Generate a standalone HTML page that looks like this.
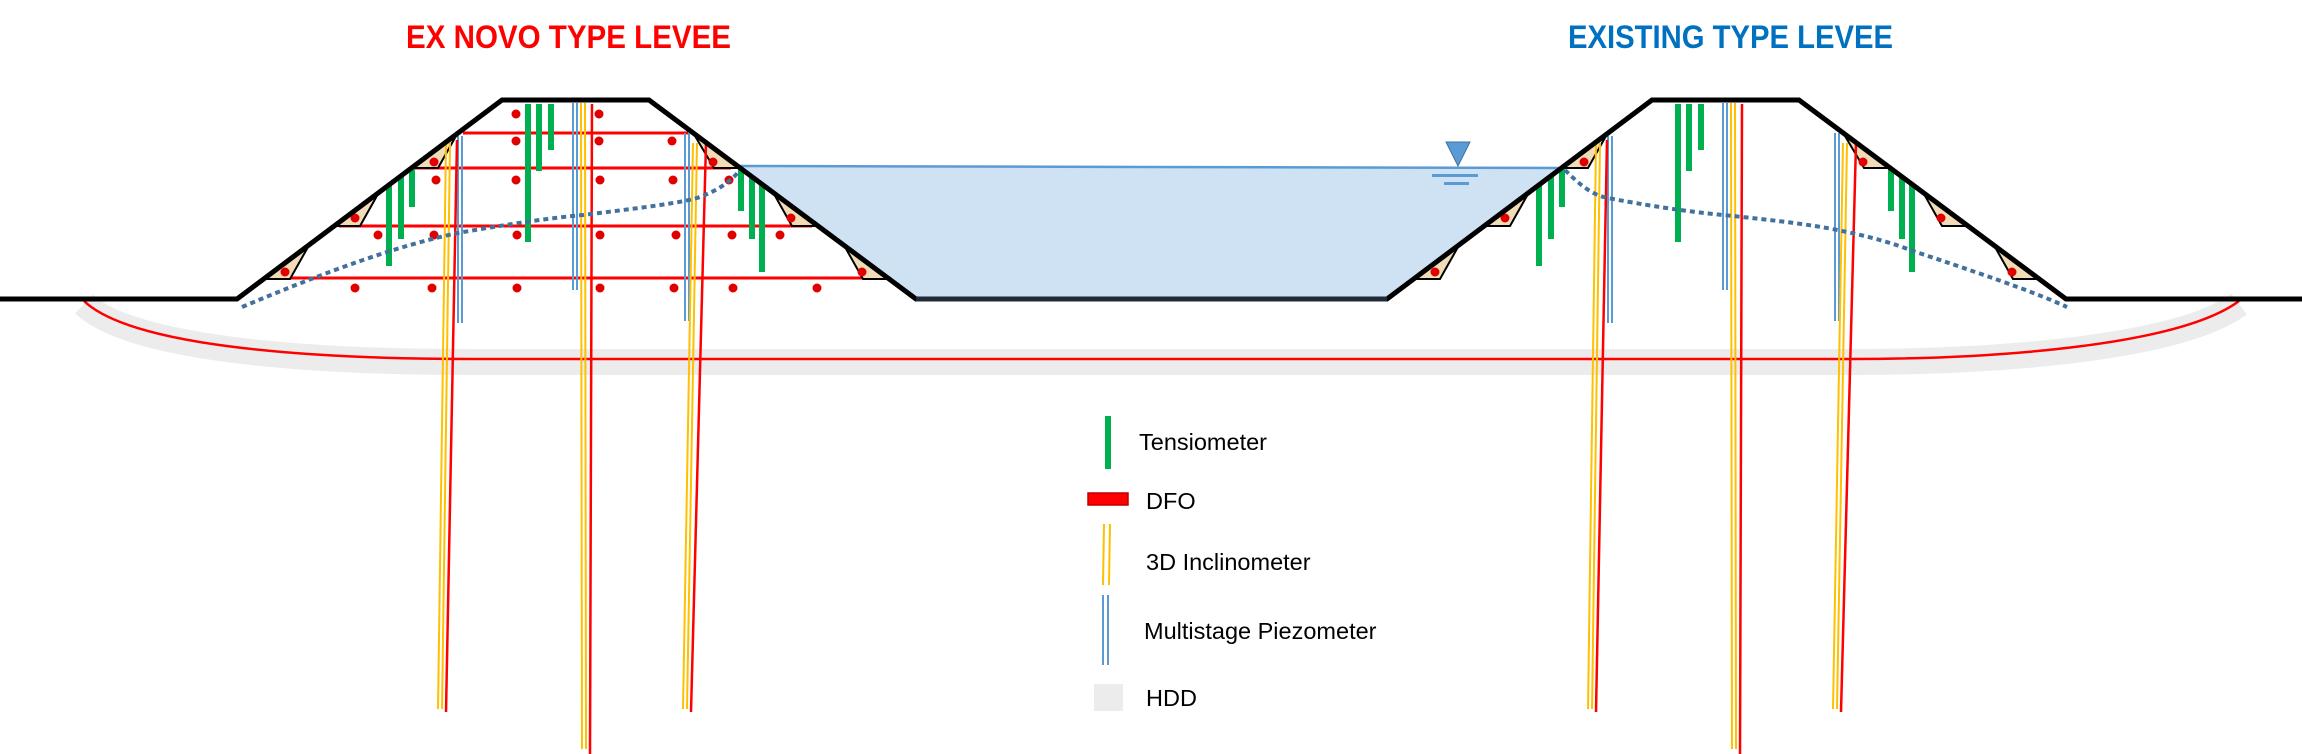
<!DOCTYPE html>
<html><head><meta charset="utf-8"><style>html,body{margin:0;padding:0;background:#fff}svg{display:block}</style></head>
<body>
<svg width="2302" height="754" viewBox="0 0 2302 754" xmlns="http://www.w3.org/2000/svg">
<rect width="2302" height="754" fill="#fff"/>
<path d="M84,304 C130,348 300,362 470,362 L1850,362 C2000,362 2180,348 2239,304" fill="none" stroke="#ECECEC" stroke-width="26"/>
<path d="M84,301 C130,345 300,359 470,359 L1850,359 C2000,359 2180,345 2239,301" fill="none" stroke="#FF0000" stroke-width="2.5"/>
<polygon points="738,166 1563,168 1387,299 916,299" fill="#CFE2F3"/>
<line x1="738" y1="166" x2="1563" y2="168" stroke="#5B9BD5" stroke-width="2.5"/>
<polygon points="1446,142 1470,142 1458,166" fill="#5B9BD5" stroke="#41719C" stroke-width="1"/>
<rect x="1432" y="174" width="46" height="3" fill="#5B9BD5"/>
<rect x="1444" y="182" width="25" height="3" fill="#5B9BD5"/>
<g stroke="#FF0000" stroke-width="3">
<line x1="463" y1="133" x2="688" y2="133"/>
<line x1="415" y1="168" x2="731" y2="168"/>
<line x1="339" y1="226" x2="812" y2="226"/>
<line x1="265" y1="278" x2="884" y2="278"/>
</g>
<g fill="#E00000">
<circle cx="516" cy="114" r="4.5"/><circle cx="599" cy="114" r="4.5"/>
<circle cx="516" cy="141" r="4.5"/><circle cx="599" cy="141" r="4.5"/><circle cx="672" cy="141" r="4.5"/>
<circle cx="436" cy="180" r="4.5"/><circle cx="516" cy="180" r="4.5"/><circle cx="600" cy="180" r="4.5"/><circle cx="673" cy="180" r="4.5"/><circle cx="729" cy="180" r="4.5"/>
<circle cx="378" cy="235" r="4.5"/><circle cx="434" cy="235" r="4.5"/><circle cx="517" cy="235" r="4.5"/><circle cx="600" cy="235" r="4.5"/><circle cx="676" cy="235" r="4.5"/><circle cx="732" cy="235" r="4.5"/><circle cx="780" cy="235" r="4.5"/>
<circle cx="355" cy="288" r="4.5"/><circle cx="432" cy="288" r="4.5"/><circle cx="517" cy="288" r="4.5"/><circle cx="600" cy="288" r="4.5"/><circle cx="674" cy="288" r="4.5"/><circle cx="733" cy="288" r="4.5"/><circle cx="817" cy="288" r="4.5"/>
</g>
<defs>
<g id="lev">
<g fill="#F2DCB8" stroke="#000" stroke-width="2">
<polygon points="264,279 290,279 308,247"/>
<polygon points="334,226 360,226 378,194"/>
<polygon points="412,168 438,168 456,136"/>
<polygon points="740,168 714,168 695,136"/>
<polygon points="818,226 792,226 774,194"/>
<polygon points="889,279 863,279 845,247"/>
</g>
<g fill="#E00000">
<circle cx="285" cy="272" r="4.5"/><circle cx="355" cy="218" r="4.5"/><circle cx="434" cy="162" r="4.5"/>
<circle cx="713" cy="162" r="4.5"/><circle cx="791" cy="218" r="4.5"/><circle cx="862" cy="272" r="4.5"/>
</g>
<g stroke="#00B050" stroke-width="6">
<line x1="389" y1="185" x2="389" y2="266"/><line x1="401" y1="176" x2="401" y2="239"/><line x1="412" y1="168" x2="412" y2="207"/>
<line x1="528" y1="104" x2="528" y2="242"/><line x1="539" y1="104" x2="539" y2="171"/><line x1="551" y1="104" x2="551" y2="150"/>
<line x1="741" y1="169" x2="741" y2="211"/><line x1="752" y1="177" x2="752" y2="239"/><line x1="762" y1="184" x2="762" y2="272"/>
</g>
<g stroke-width="2" fill="none">
<line x1="458" y1="136" x2="458" y2="323" stroke="#5B9BD5"/><line x1="462" y1="136" x2="462" y2="323" stroke="#5B9BD5"/>
<line x1="446" y1="143" x2="438" y2="709" stroke="#FFC000"/><line x1="450" y1="143" x2="442" y2="709" stroke="#FFC000"/>
<line x1="457" y1="140" x2="446" y2="712" stroke="#FF0000" stroke-width="2.5"/>
<line x1="573" y1="103" x2="573" y2="290" stroke="#5B9BD5"/><line x1="577" y1="103" x2="577" y2="290" stroke="#5B9BD5"/>
<line x1="581" y1="103" x2="582" y2="749" stroke="#FFC000"/><line x1="585" y1="103" x2="586" y2="749" stroke="#FFC000"/>
<line x1="592" y1="104" x2="590" y2="754" stroke="#FF0000" stroke-width="2.5"/>
<line x1="685" y1="133" x2="685" y2="321" stroke="#5B9BD5"/><line x1="689" y1="133" x2="689" y2="321" stroke="#5B9BD5"/>
<line x1="693" y1="143" x2="683" y2="709" stroke="#FFC000"/><line x1="697" y1="143" x2="687" y2="709" stroke="#FFC000"/>
<line x1="706" y1="143" x2="691" y2="712" stroke="#FF0000" stroke-width="2.5"/>
</g>
</g>
</defs>
<use href="#lev"/>
<use href="#lev" transform="translate(1150,0)"/>
<g fill="none" stroke="#41719C" stroke-width="4" stroke-dasharray="5,4">
<path d="M242,307 C330,270 400,245 458,233 C520,222 560,217 583,215 C640,208 680,203 697,198 C720,190 732,180 740,170"/>
<path d="M1565,170 C1580,185 1592,195 1608,198 C1660,208 1700,213 1733,216 C1790,222 1820,226 1847,232 C1875,238 1895,244 1910,250 C1970,270 2030,290 2067,307"/>
</g>
<polyline points="0,299 237,299 502,100 649,100 916,299 1387,299 1652,100 1799,100 2066,299 2302,299" fill="none" stroke="#000" stroke-width="5" stroke-linejoin="miter"/>
<line x1="916" y1="299" x2="1387" y2="299" stroke="#1F2A3A" stroke-width="5"/>
<text x="406" y="48" font-family="Liberation Sans Narrow, Liberation Sans, sans-serif" font-weight="bold" font-size="32" fill="#FF0000" textLength="325" lengthAdjust="spacingAndGlyphs">EX NOVO TYPE LEVEE</text>
<text x="1568" y="48" font-family="Liberation Sans Narrow, Liberation Sans, sans-serif" font-weight="bold" font-size="32" fill="#0070C0" textLength="325" lengthAdjust="spacingAndGlyphs">EXISTING TYPE LEVEE</text>
<rect x="1105" y="416" width="6" height="53" fill="#00B050"/>
<rect x="1088" y="493" width="40" height="12" fill="#FF0000" stroke="#C00000" stroke-width="1.5"/>
<line x1="1104" y1="524" x2="1103" y2="585" stroke="#FFC000" stroke-width="2"/><line x1="1110" y1="524" x2="1109" y2="585" stroke="#FFC000" stroke-width="2"/>
<line x1="1103" y1="595" x2="1103" y2="665" stroke="#5B9BD5" stroke-width="2"/><line x1="1108" y1="595" x2="1108" y2="665" stroke="#5B9BD5" stroke-width="2"/>
<rect x="1094" y="684" width="29" height="27" fill="#ECECEC"/>
<g font-family="Liberation Sans, sans-serif" font-size="23.5" fill="#000">
<text x="1139" y="450">Tensiometer</text>
<text x="1146" y="509">DFO</text>
<text x="1146" y="570">3D Inclinometer</text>
<text x="1144" y="639">Multistage Piezometer</text>
<text x="1146" y="706">HDD</text>
</g>
</svg>
</body></html>
